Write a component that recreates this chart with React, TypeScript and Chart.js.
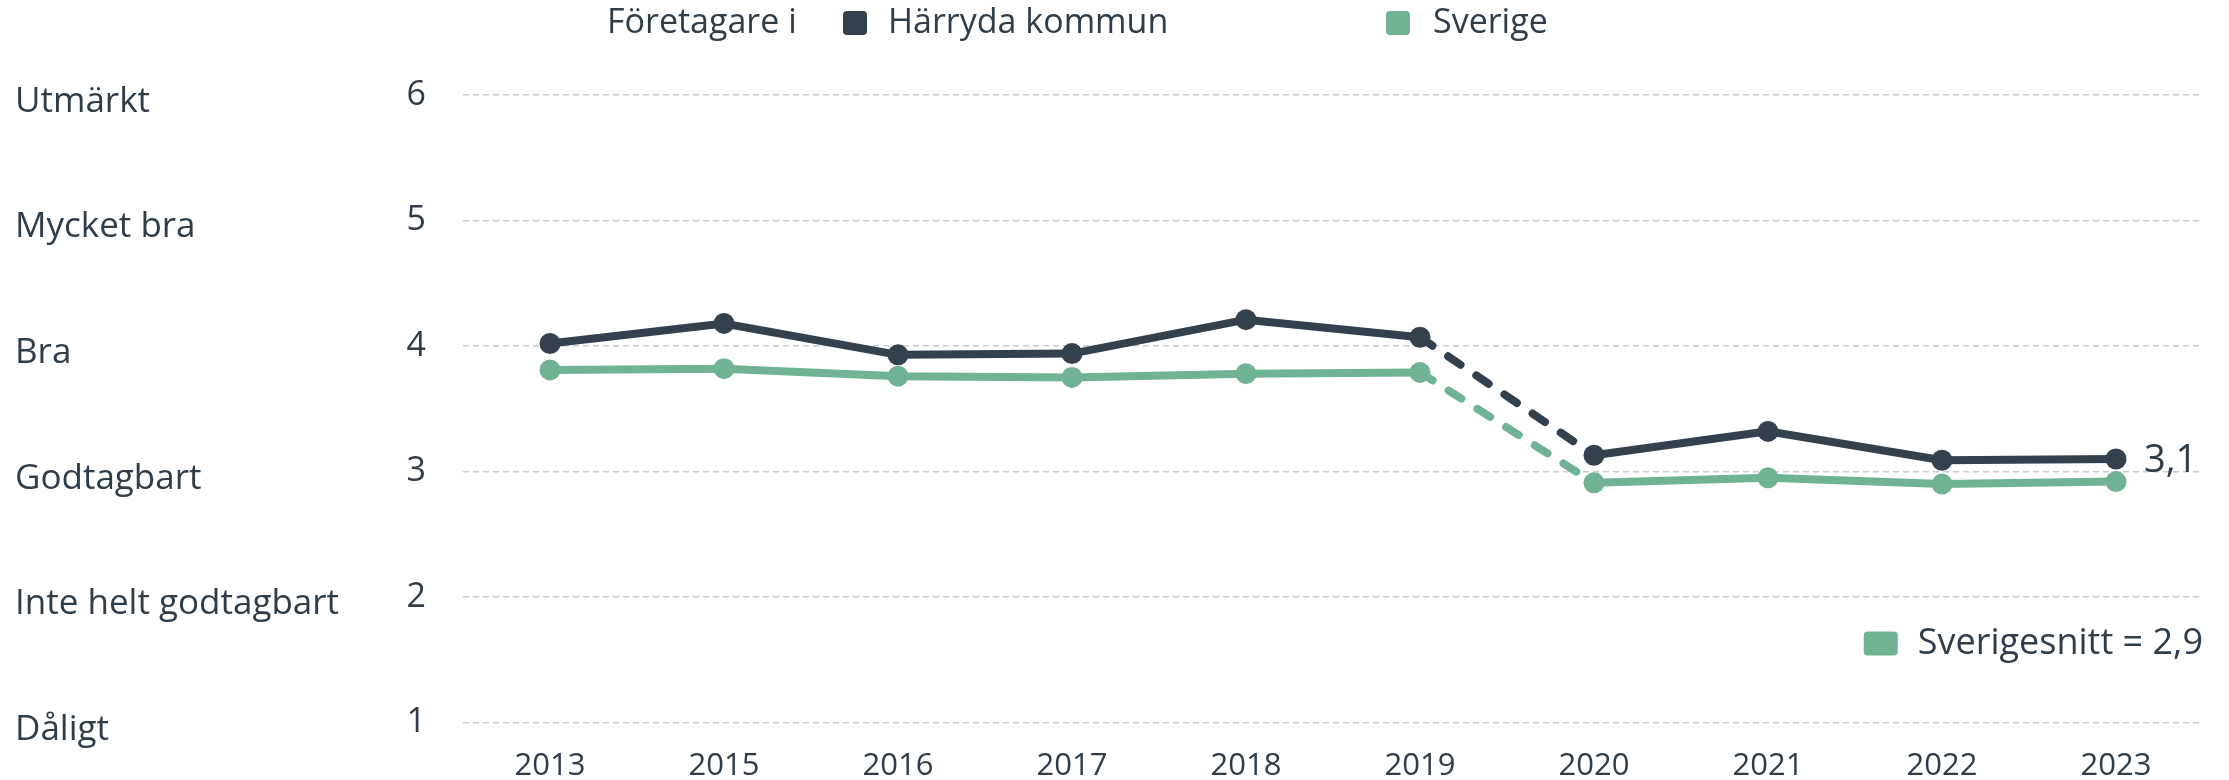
import React, { useEffect, useRef } from "react";
import { Chart, registerables } from "chart.js";

Chart.register(...registerables);

const years = ["2013", "2015", "2016", "2017", "2018", "2019", "2020", "2021", "2022", "2023"];
const harryda = [4.02, 4.18, 3.93, 3.94, 4.21, 4.07, 3.13, 3.32, 3.09, 3.1];
const sverige = [3.81, 3.82, 3.76, 3.75, 3.78, 3.79, 2.91, 2.95, 2.9, 2.92];
const levelValues = [1, 2, 3, 4, 5, 6];
const levelLabels = ["Dåligt", "Inte helt godtagbart", "Godtagbart", "Bra", "Mycket bra", "Utmärkt"];
const legendPrefix = "Företagare i";
const seriesNames = ["Härryda kommun", "Sverige"];
const avgLabel = "Sverigesnitt";
const dashedFromIndex = 5;

const DARK = "#33414f";
const GREEN = "#6fb394";
const TEXT = "#2f3d4b";
const FONT = "'Open Sans', sans-serif";

const fmt = (v: number) => v.toFixed(1).replace(".", ",");

const overlayPlugin = {
  id: "overlay",
  afterDraw(chart: any) {
    const ctx = chart.ctx;
    const y = chart.scales.y;
    const area = chart.chartArea;
    ctx.save();
    // left category labels
    ctx.fillStyle = TEXT;
    ctx.font = `35px ${FONT}`;
    ctx.textAlign = "left";
    ctx.textBaseline = "middle";
    levelValues.forEach((v, i) => {
      ctx.fillText(levelLabels[i], 15, y.getPixelForValue(v) + 7);
    });
    // top legend
    const ly = 23;
    ctx.font = `34px ${FONT}`;
    ctx.textBaseline = "middle";
    ctx.fillText(legendPrefix, 607, ly);
    const sq = (cx: number, color: string) => {
      ctx.fillStyle = color;
      ctx.beginPath();
      (ctx as any).roundRect(cx, ly - 12, 24, 24, 4);
      ctx.fill();
    };
    sq(843, DARK);
    ctx.fillStyle = TEXT;
    ctx.fillText(seriesNames[0], 888, ly);
    sq(1386, GREEN);
    ctx.fillStyle = TEXT;
    ctx.fillText(seriesNames[1], 1433, ly);
    // end label
    const meta = chart.getDatasetMeta(0);
    const last = meta.data[meta.data.length - 1];
    ctx.font = `38px ${FONT}`;
    ctx.fillStyle = TEXT;
    ctx.textAlign = "left";
    ctx.fillText(fmt(harryda[harryda.length - 1]), last.x + 28, last.y + 2);
    // bottom right avg legend
    const avgText = `${avgLabel} = ${fmt(sverige[sverige.length - 1])}`;
    ctx.font = `36px ${FONT}`;
    ctx.textAlign = "right";
    const ay = y.getPixelForValue(1.63);
    ctx.fillText(avgText, area.right, ay);
    const w = ctx.measureText(avgText).width;
    ctx.fillStyle = GREEN;
    ctx.beginPath();
    (ctx as any).roundRect(area.right - w - 54, ay - 12, 34, 24, 4);
    ctx.fill();
    ctx.restore();
  },
};

export default function App() {
  const ref = useRef<HTMLCanvasElement>(null);
  useEffect(() => {
    const seg = (ctx: any) => (ctx.p0DataIndex === dashedFromIndex ? [15, 19] : undefined);
    const chart = new Chart(ref.current as HTMLCanvasElement, {
      type: "line",
      data: {
        labels: years,
        datasets: [
          {
            label: seriesNames[0],
            data: harryda,
            borderColor: DARK,
            backgroundColor: DARK,
            borderWidth: 8,
            pointRadius: 10.5,
            pointBorderWidth: 0,
            borderCapStyle: "round",
            order: 0,
            segment: { borderDash: seg },
          },
          {
            label: seriesNames[1],
            data: sverige,
            borderColor: GREEN,
            backgroundColor: GREEN,
            borderWidth: 8,
            pointRadius: 10.5,
            pointBorderWidth: 0,
            borderCapStyle: "round",
            order: 1,
            segment: { borderDash: seg },
          },
        ],
      },
      options: {
        animation: false,
        responsive: false,
        maintainAspectRatio: false,
        layout: { padding: { top: 95, right: 26, left: 0, bottom: 0 } },
        plugins: { legend: { display: false }, tooltip: { enabled: false } },
        scales: {
          x: {
            offset: true,
            grid: { display: false, drawTicks: false },
            border: { display: false },
            ticks: { color: TEXT, font: { family: "'Open Sans', sans-serif", size: 31 }, padding: 25, maxRotation: 0 },
            afterFit: (s: any) => {
              s.height = 56;
            },
          },
          y: {
            min: 1,
            max: 6,
            grid: { color: "#cccccc", lineWidth: 1.5, drawTicks: false },
            border: { display: false, dash: [6, 4] },
            ticks: { stepSize: 1, color: TEXT, font: { family: "'Open Sans', sans-serif", size: 34 }, padding: 37 },
            afterFit: (s: any) => {
              s.width = 463;
            },
          },
        },
      },
      plugins: [overlayPlugin],
    } as any);
    return () => chart.destroy();
  }, []);
  return (
    <div style={{ position: "fixed", left: 0, top: 0, width: 2229, height: 780, background: "#fff" }}>
      <canvas ref={ref} width={2229} height={780} style={{ width: 2229, height: 780 }} />
    </div>
  );
}
